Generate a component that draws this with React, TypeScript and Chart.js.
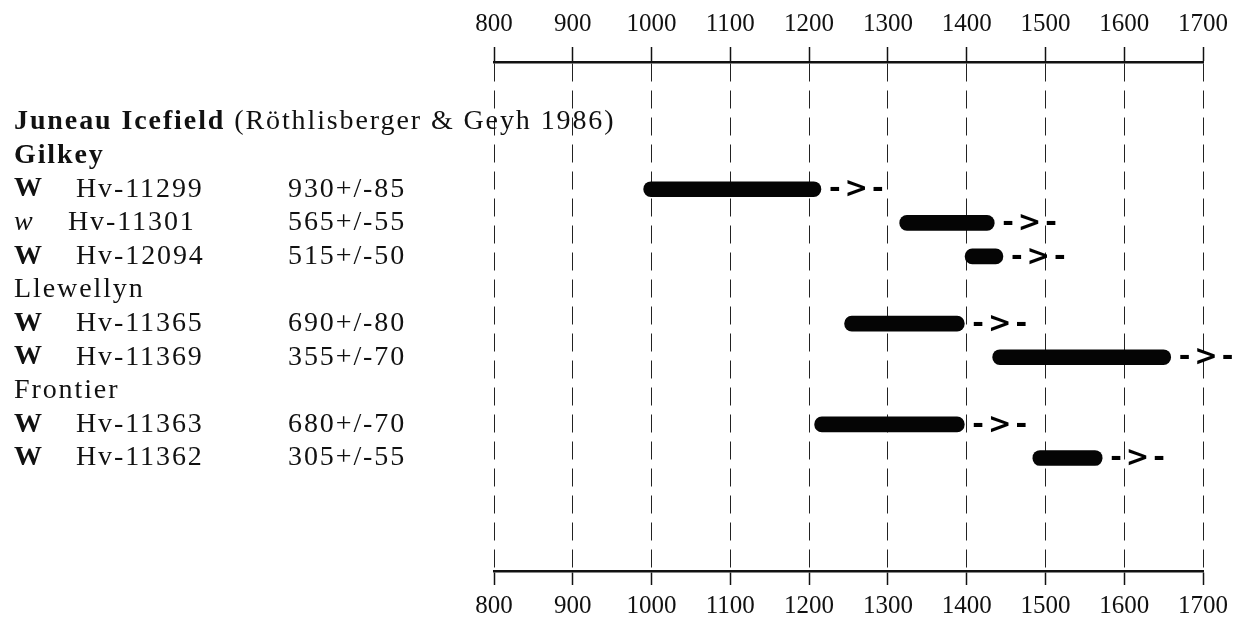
import React, { useEffect, useRef } from 'react';
import { Chart, registerables } from 'chart.js';

Chart.register(...registerables);

// Calendar-year axis ticks (top and bottom)
const yearTicks = [800, 900, 1000, 1100, 1200, 1300, 1400, 1500, 1600, 1700];

// Glacier group headings and the row each one sits on
const glacierNames = ['Gilkey', 'Llewellyn', 'Frontier'];
const glacierRows = [1, 5, 8];

// Radiocarbon samples
const woodCodes = ['W', 'w', 'W', 'W', 'W', 'W', 'W'];
const labCodes = ['Hv-11299', 'Hv-11301', 'Hv-12094', 'Hv-11365', 'Hv-11369', 'Hv-11363', 'Hv-11362'];
const radiocarbonAges = ['930+/-85', '565+/-55', '515+/-50', '690+/-80', '355+/-70', '680+/-70', '305+/-55'];
const sampleRows = [2, 3, 4, 6, 7, 9, 10];

// Calibrated age ranges (AD)
const rangeStart = [990, 1315, 1398, 1245, 1433, 1207, 1484];
const rangeEnd = [1215, 1435, 1446, 1397, 1659, 1397, 1572];

const titleBold = 'Juneau Icefield';
const titleSource = ' (Röthlisberger & Geyh 1986)';
const arrowMark = '->-';

const SERIF = '"Liberation Serif", "Times New Roman", serif';

const sampleTablePlugin = {
  id: 'sampleTable',
  afterDatasetsDraw(chart: any) {
    const ctx: CanvasRenderingContext2D = chart.ctx;
    const xs = chart.scales.x;
    const ys = chart.scales.y;
    ctx.save();
    ctx.fillStyle = '#111';
    ctx.textAlign = 'left';
    ctx.textBaseline = 'middle';
    (ctx as any).letterSpacing = '1.9px';

    // heading line
    const titleY = ys.getPixelForValue(0);
    ctx.font = `bold 28px ${SERIF}`;
    ctx.fillText(titleBold, 14, titleY);
    const boldW = ctx.measureText(titleBold).width;
    ctx.font = `28px ${SERIF}`;
    ctx.fillText(titleSource, 14 + boldW, titleY);

    // glacier names
    glacierNames.forEach((name, i) => {
      ctx.font = i === 0 ? `bold 28px ${SERIF}` : `28px ${SERIF}`;
      ctx.fillText(name, 14, ys.getPixelForValue(glacierRows[i]));
    });

    // sample rows
    labCodes.forEach((code, i) => {
      const y = ys.getPixelForValue(sampleRows[i]);
      const lower = woodCodes[i] === 'w';
      ctx.font = lower ? `italic 28px ${SERIF}` : `bold 28px ${SERIF}`;
      ctx.fillText(woodCodes[i], 14, y);
      ctx.font = `28px ${SERIF}`;
      ctx.fillText(code, lower ? 68 : 76, y);
      ctx.fillText(radiocarbonAges[i], 288, y);
    });

    // open-ended markers after each range
    ctx.font = 'bold 28px "DejaVu Sans", sans-serif';
    (ctx as any).letterSpacing = '4px';
    ctx.fillStyle = '#000';
    rangeEnd.forEach((end, i) => {
      ctx.fillText(arrowMark, xs.getPixelForValue(end) + 8, ys.getPixelForValue(sampleRows[i]) + 1);
    });
    ctx.restore();
  },
};

export default function App() {
  const canvasRef = useRef<HTMLCanvasElement | null>(null);

  useEffect(() => {
    const canvas = canvasRef.current;
    if (!canvas) return;

    const tickFont = { family: SERIF, size: 25 };
    const setYearTicks = (scale: any) => {
      scale.ticks = yearTicks.map((v) => ({ value: v }));
    };
    const yearLabel = (v: any) => String(v);

    const chart = new Chart(canvas, {
      type: 'bar',
      data: {
        datasets: [
          {
            data: sampleRows.map((r, i) => ({ x: [rangeStart[i], rangeEnd[i]], y: r })) as any,
            backgroundColor: '#050505',
            borderWidth: 0,
            borderRadius: 8,
            borderSkipped: false,
            barThickness: 15,
            xAxisID: 'x',
            yAxisID: 'y',
          },
        ],
      },
      options: {
        indexAxis: 'y',
        responsive: false,
        animation: false,
        layout: { padding: { left: 494, right: 34, top: 0, bottom: 0 } },
        plugins: {
          legend: { display: false },
          tooltip: { enabled: false },
        },
        scales: {
          x: {
            type: 'linear',
            position: 'top',
            min: 800,
            max: 1700,
            afterBuildTicks: setYearTicks,
            afterFit: (s: any) => {
              s.height = 62;
            },
            ticks: { color: '#111', font: tickFont, padding: 8, maxRotation: 0, callback: yearLabel },
            grid: {
              color: '#222',
              lineWidth: 1,
              drawOnChartArea: true,
              drawTicks: true,
              tickLength: 15,
              tickWidth: 1.5,
              tickColor: '#111',
            },
            border: { display: true, color: '#111', width: 2.5, dash: [18, 9] },
          },
          x2: {
            type: 'linear',
            position: 'bottom',
            min: 800,
            max: 1700,
            afterBuildTicks: setYearTicks,
            afterFit: (s: any) => {
              s.height = 48;
            },
            ticks: { color: '#111', font: tickFont, padding: 6, maxRotation: 0, callback: yearLabel },
            grid: {
              drawOnChartArea: false,
              drawTicks: true,
              tickLength: 14,
              tickWidth: 1.5,
              tickColor: '#111',
            },
            border: { display: true, color: '#111', width: 2.5 },
          },
          y: {
            type: 'linear',
            display: false,
            offset: false,
            reverse: true,
            min: -1.786,
            max: 13.363,
          },
        },
      } as any,
      plugins: [sampleTablePlugin],
    });

    return () => chart.destroy();
  }, []);

  return (
    <div
      style={{
        position: 'absolute',
        left: 0,
        top: 0,
        width: 1237,
        height: 619,
        background: '#fff',
      }}
    >
      <canvas ref={canvasRef} width={1237} height={619} />
    </div>
  );
}
